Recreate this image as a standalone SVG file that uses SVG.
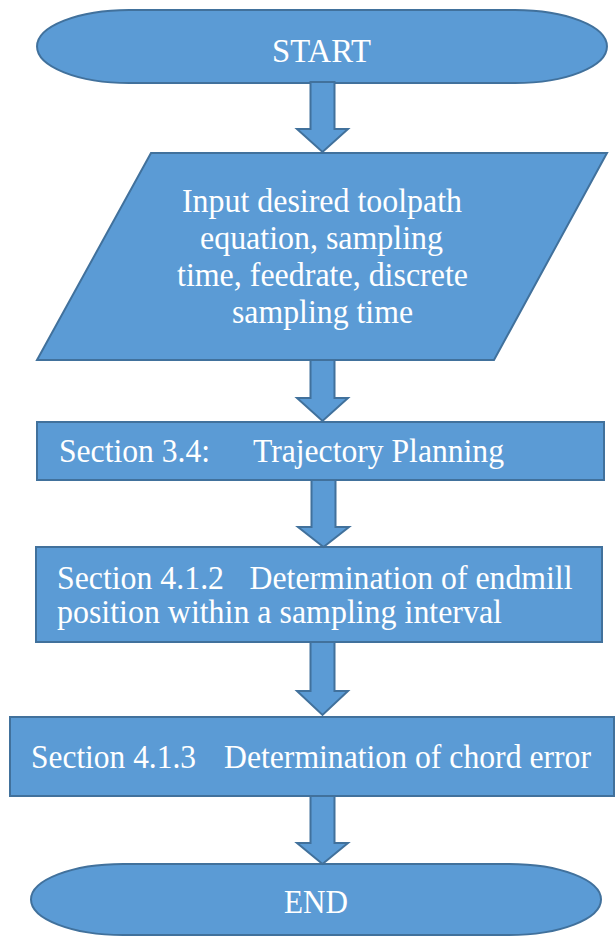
<svg xmlns="http://www.w3.org/2000/svg" width="616" height="936" viewBox="0 0 616 936">
  <style>
    .shape { fill: #5B9BD5; stroke: #41719C; stroke-width: 2; }
    .arrow { fill: #5B9BD5; stroke: #41719C; stroke-width: 2; stroke-linejoin: miter; }
    .label { font-family: "Liberation Serif", "Times New Roman", serif; font-size: 33px; fill: #FFFFFF; }
    .mid { text-anchor: middle; }
  </style>
  <rect width="616" height="936" fill="#FFFFFF"/>

  <g id="start">
    <path class="shape" d="M129,10 H515 A92,36.5 0 0 1 515,83 H129 A92,36.5 0 0 1 129,10 Z"/>
    <text class="label mid" x="321.5" y="62" textLength="99" lengthAdjust="spacingAndGlyphs">START</text>
  </g>

  <g id="input">
    <path class="shape" d="M151,153 H607 L494,360 H37 Z"/>
    <text class="label mid" x="322" y="212" textLength="280" lengthAdjust="spacingAndGlyphs">Input desired toolpath</text>
    <text class="label mid" x="321.5" y="249" textLength="243" lengthAdjust="spacingAndGlyphs">equation, sampling</text>
    <text class="label mid" x="322.5" y="286" textLength="291" lengthAdjust="spacingAndGlyphs">time, feedrate, discrete</text>
    <text class="label mid" x="322.5" y="323" textLength="181" lengthAdjust="spacingAndGlyphs">sampling time</text>
  </g>

  <g id="trajectory">
    <rect class="shape" x="37" y="422" width="567" height="58"/>
    <text class="label" x="59" y="462" textLength="151" lengthAdjust="spacingAndGlyphs">Section 3.4:</text>
    <text class="label" x="253" y="462" textLength="251" lengthAdjust="spacingAndGlyphs">Trajectory Planning</text>
  </g>

  <g id="endmill">
    <rect class="shape" x="36" y="547" width="566" height="95"/>
    <text class="label" x="57" y="589" textLength="167" lengthAdjust="spacingAndGlyphs">Section 4.1.2</text>
    <text class="label" x="249.5" y="589" textLength="323" lengthAdjust="spacingAndGlyphs">Determination of endmill</text>
    <text class="label" x="57" y="623" textLength="445" lengthAdjust="spacingAndGlyphs">position within a sampling interval</text>
  </g>

  <g id="chord">
    <rect class="shape" x="10" y="717" width="604" height="79"/>
    <text class="label" x="31" y="768" textLength="165" lengthAdjust="spacingAndGlyphs">Section 4.1.3</text>
    <text class="label" x="224" y="768" textLength="367" lengthAdjust="spacingAndGlyphs">Determination of chord error</text>
  </g>

  <g id="end">
    <path class="shape" d="M123,864 H509 A92,35.5 0 0 1 509,935 H123 A92,35.5 0 0 1 123,864 Z"/>
    <text class="label mid" x="316" y="913" textLength="64" lengthAdjust="spacingAndGlyphs">END</text>
  </g>

  <g id="connectors">
    <path class="arrow" d="M310.5,82 H334.5 V129 H348 L322.5,152 L297,129 H310.5 Z"/>
    <path class="arrow" d="M310.5,360 H334.5 V398 H348 L322.5,421 L297,398 H310.5 Z"/>
    <path class="arrow" d="M311.5,480 H335.5 V527 H349 L323.5,547 L298,527 H311.5 Z"/>
    <path class="arrow" d="M310.5,642 H334.5 V691 H348 L322.5,715 L297,691 H310.5 Z"/>
    <path class="arrow" d="M310.5,796 H334.5 V843 H348 L322.5,864 L297,843 H310.5 Z"/>
  </g>
</svg>
